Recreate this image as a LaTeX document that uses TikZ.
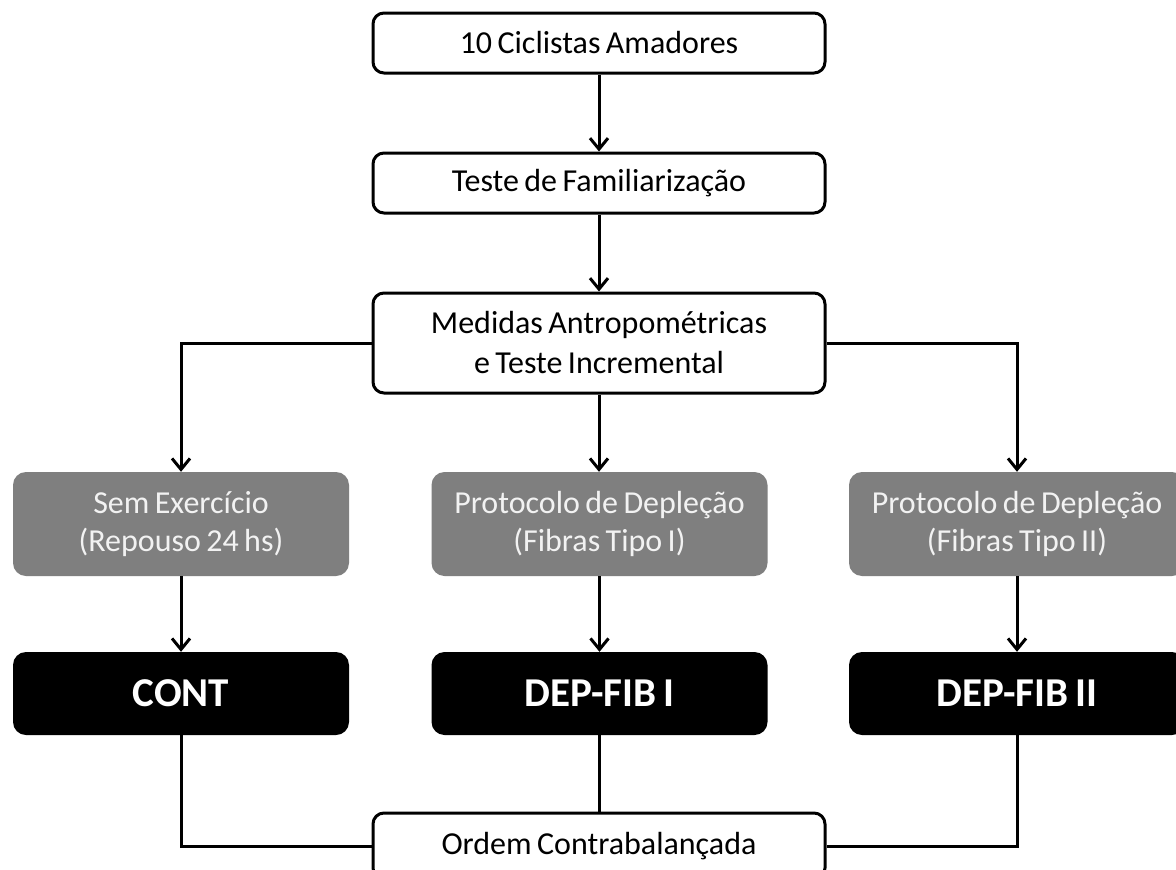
\documentclass[tikz,border=0pt]{standalone}
\usepackage{fontspec}
\setmainfont[WordSpace=0.75]{Carlito}
\usetikzlibrary{arrows.meta}
\definecolor{boxgray}{HTML}{7F7F7F}
\definecolor{lighttext}{HTML}{F2F2F2}
\begin{document}
\begin{tikzpicture}[x=1pt,y=-1pt,
  wbox/.style={draw=black, line width=3pt, rounded corners=11pt, fill=white, align=center,
    font=\fontsize{32}{40}\selectfont, inner sep=0pt, minimum width=452pt},
  gbox/.style={fill=boxgray, rounded corners=13pt, text=lighttext, align=center,
    font=\fontsize{32}{38}\selectfont, inner sep=0pt, minimum width=336pt, minimum height=104pt},
  kbox/.style={fill=black, rounded corners=13pt, text=white,
    font=\fontsize{41}{48}\selectfont\bfseries, inner sep=0pt, minimum width=336pt, minimum height=83pt},
  conn/.style={line width=3pt, draw=black},
  arr/.style={conn, -{Straight Barb[length=11pt,width=18pt,line width=3pt]}}]
\useasboundingbox (0,0) rectangle (1176,870);
\clip (0,0) rectangle (1176,870);
\fill[white] (0,0) rectangle (1176,870);

\node[wbox, minimum height=60pt] (a) at (599,43) {10 Ciclistas Amadores};
\node[wbox, minimum height=60pt] (b) at (599,183) {Teste de Familiarização};
\node[wbox, minimum height=100pt] (c) at (599,343) {Medidas Antropométricas\\e Teste Incremental};

\node[gbox] (g1) at (181,524) {Sem Exercício\\(Repouso 24 hs)};
\node[gbox] (g2) at (599.5,524) {Protocolo de Depleção\\(Fibras Tipo I)};
\node[gbox] (g3) at (1017,524) {Protocolo de Depleção\\(Fibras Tipo II)};

\node[kbox] (k1) at (181,693.5) {CONT};
\node[kbox] (k2) at (599.5,693.5) {DEP-FIB I};
\node[kbox] (k3) at (1017,693.5) {DEP-FIB II};

\node[wbox, minimum height=66pt] (d) at (599,846) {Ordem Contrabalançada};

\draw[arr] (a) -- (b);
\draw[arr] (b) -- (c);
\draw[arr] (c.west) -| (g1.north);
\draw[arr] (c.south) -- (c.south |- g2.north);
\draw[arr] (c.east) -| (g3.north);
\draw[arr] (g1) -- (k1);
\draw[arr] (g2) -- (k2);
\draw[arr] (g3) -- (k3);
\draw[conn] (k1.south) |- (d.west);
\draw[conn] (k2.south) -- (k2.south |- d.north);
\draw[conn] (k3.south) |- (d.east);
\end{tikzpicture}
\end{document}
